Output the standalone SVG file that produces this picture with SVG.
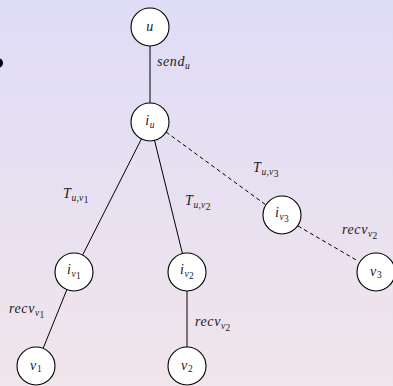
<svg xmlns="http://www.w3.org/2000/svg" width="393" height="386" viewBox="0 0 393 386">
<defs>
<linearGradient id="bg" x1="0" y1="0" x2="0" y2="1">
<stop offset="0" stop-color="#dfdcf7"/>
<stop offset="1" stop-color="#f0e5ea"/>
</linearGradient>
<style>
.node circle{fill:#fff;stroke:#000;stroke-width:1.1}
.edge{stroke:#000;stroke-width:1;fill:none}
.dash{stroke-dasharray:4 3}
text{font-family:"Liberation Serif","DejaVu Serif",serif;font-style:italic;font-size:14px;letter-spacing:0.6px;fill:#1a1a1a}
.sub{font-size:9.5px;letter-spacing:0.3px}
.up{font-style:normal}
</style>
</defs>
<rect width="393" height="386" fill="url(#bg)"/>
<circle cx="-2" cy="63" r="5" fill="#000"/>
<g id="connectors">
<line class="edge" x1="150" y1="27" x2="150" y2="122"/>
<line class="edge" x1="150" y1="122" x2="74" y2="272"/>
<line class="edge" x1="150" y1="122" x2="187" y2="272"/>
<line class="edge dash" x1="166" y1="132" x2="266" y2="205"/>
<line class="edge dash" x1="298" y1="226" x2="358" y2="261"/>
<line class="edge" x1="74" y1="272" x2="36" y2="366"/>
<line class="edge" x1="187" y1="272" x2="187" y2="366"/>
<text x="157" y="66">send<tspan class="sub" dy="3">u</tspan></text>
<text x="63" y="198">T<tspan class="sub" dy="3">u,v</tspan><tspan class="sub up" dy="2" font-size="7">1</tspan></text>
<text x="185" y="205">T<tspan class="sub" dy="3">u,v</tspan><tspan class="sub up" dy="2" font-size="7">2</tspan></text>
<text x="253" y="172">T<tspan class="sub" dy="3">u,v</tspan><tspan class="sub up" dy="2" font-size="7">3</tspan></text>
<text x="342" y="234">recv<tspan class="sub" dy="3">v</tspan><tspan class="sub up" dy="2" font-size="7">2</tspan></text>
<text x="9" y="313">recv<tspan class="sub" dy="3">v</tspan><tspan class="sub up" dy="2" font-size="7">1</tspan></text>
<text x="195" y="326">recv<tspan class="sub" dy="3">v</tspan><tspan class="sub up" dy="2" font-size="7">2</tspan></text>
</g>
<g id="node-u" class="node"><circle cx="150" cy="27" r="19"/><text x="150" y="31" text-anchor="middle">u</text></g>
<g id="node-iu" class="node"><circle cx="150" cy="122" r="19"/><text x="150" y="125" text-anchor="middle">i<tspan class="sub" dy="3">u</tspan></text></g>
<g id="node-iv1" class="node"><circle cx="74" cy="272" r="19"/><text x="74" y="274" text-anchor="middle">i<tspan class="sub" dy="3">v</tspan><tspan class="sub up" dy="2" font-size="7">1</tspan></text></g>
<g id="node-iv2" class="node"><circle cx="187" cy="272" r="19"/><text x="187" y="274" text-anchor="middle">i<tspan class="sub" dy="3">v</tspan><tspan class="sub up" dy="2" font-size="7">2</tspan></text></g>
<g id="node-iv3" class="node"><circle cx="282" cy="215" r="19"/><text x="282" y="217" text-anchor="middle">i<tspan class="sub" dy="3">v</tspan><tspan class="sub up" dy="2" font-size="7">3</tspan></text></g>
<g id="node-v3" class="node"><circle cx="376" cy="272" r="19"/><text x="376" y="276" text-anchor="middle">v<tspan class="sub up" dy="2">3</tspan></text></g>
<g id="node-v1" class="node"><circle cx="36" cy="366" r="19"/><text x="36" y="370" text-anchor="middle">v<tspan class="sub up" dy="2">1</tspan></text></g>
<g id="node-v2" class="node"><circle cx="187" cy="366" r="19"/><text x="187" y="370" text-anchor="middle">v<tspan class="sub up" dy="2">2</tspan></text></g>
</svg>
